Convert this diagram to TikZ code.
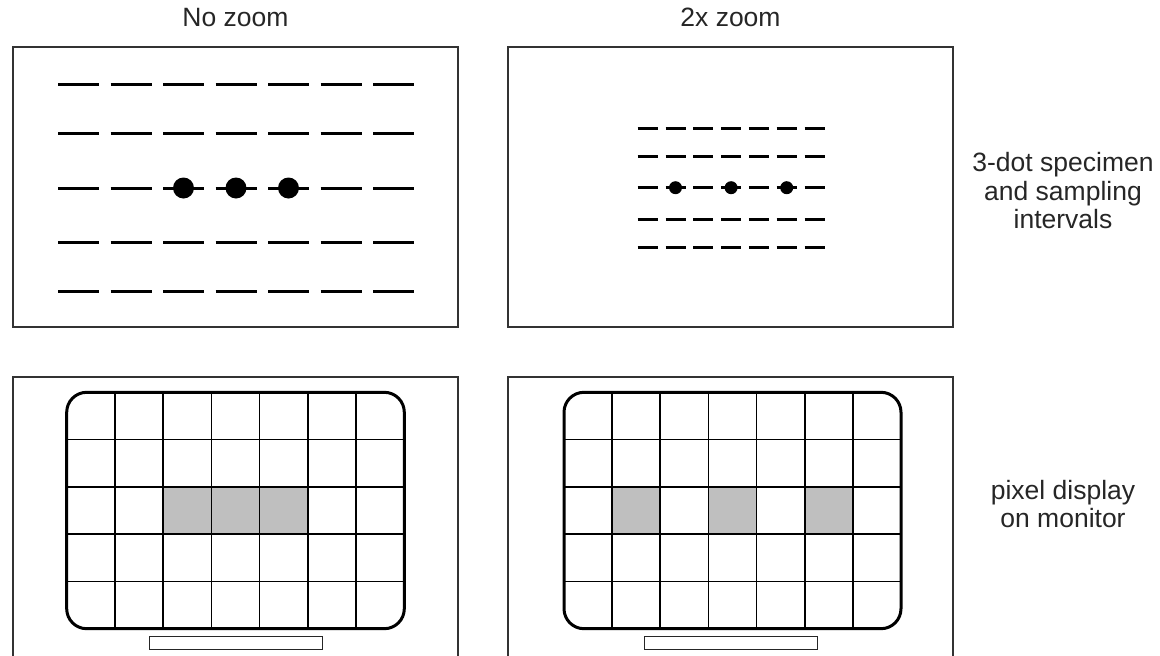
\documentclass[tikz,border=0pt]{standalone}
\usepackage{fontspec}
\setmainfont{Liberation Sans}
\begin{document}
\begin{tikzpicture}[x=1pt,y=-1pt,
  frame/.style={draw=black!80, line width=1.5pt},
  dashln/.style={line width=3pt},
  gridln/.style={line width=1.7pt},
  outline/.style={line width=3pt, rounded corners=20pt},
  stand/.style={draw=black!85, line width=1.5pt},
  pix/.style={fill=black!25},
  lbl/.style={font=\fontsize{26.5}{28.5}\selectfont, text=black!85, inner sep=0pt, align=center}]
\useasboundingbox (0,0) rectangle (1160,656);

% titles
\node[lbl, anchor=base] (t1) at (235.5,26.7) {No zoom};
\node[lbl, anchor=base] (t2) at (730.5,26.7) {2x zoom};
\node[lbl] (r1) at (1063,191) {3-dot specimen\\and sampling\\intervals};
\node[lbl] (r2) at (1063,504) {pixel display\\on monitor};

% top frames
\draw[frame] (13,47) rectangle (458,327);
\draw[frame] (508,47) rectangle (953,327);

% no zoom sampling
\foreach \y in {84.3,133.7,188,242.3,291}
  \foreach \k in {0,...,6}
    \draw[dashln] ({58+52.5*\k},\y) -- ++(41,0);
\foreach \k in {2,3,4}
  \fill ({78.5+52.5*\k},188) circle[radius=10.5pt];

% 2x zoom sampling
\foreach \y in {128.3,156.7,187.7,219,247.3}
  \foreach \k in {0,...,6}
    \draw[dashln] ({637.7+27.8*\k},\y) -- ++(20,0);
\foreach \k in {1,3,5}
  \fill ({647.7+27.8*\k},187.7) circle[radius=6.5pt];

% bottom frames (open at the bottom edge)
\draw[frame] (13,656) -- (13,377) -- (458,377) -- (458,656);
\draw[frame] (508,656) -- (508,377) -- (953,377) -- (953,656);

% left monitor
\foreach \k in {2,3,4}
  \fill[pix] ({66.7+48.23*\k},487.2) rectangle ++(48.23,47.3);
\foreach \k in {1,...,6}
  \draw[gridln] ({66.7+48.23*\k},392.3) -- ({66.7+48.23*\k},628.7);
\foreach \j in {1,...,4}
  \draw[gridln] (66.7,{392.3+47.28*\j}) -- (404.3,{392.3+47.28*\j});
\draw[outline] (66.7,392.3) rectangle (404.3,628.7);
\draw[stand] (149.3,636.7) rectangle (322.7,649.3);

% right monitor
\foreach \k in {1,3,5}
  \fill[pix] ({564+48.14*\k},487.2) rectangle ++(48.14,47.3);
\foreach \k in {1,...,6}
  \draw[gridln] ({564+48.14*\k},392.3) -- ({564+48.14*\k},628.7);
\foreach \j in {1,...,4}
  \draw[gridln] (564,{392.3+47.28*\j}) -- (901,{392.3+47.28*\j});
\draw[outline] (564,392.3) rectangle (901,628.7);
\draw[stand] (644.3,636.7) rectangle (817.7,649.3);
\end{tikzpicture}
\end{document}
